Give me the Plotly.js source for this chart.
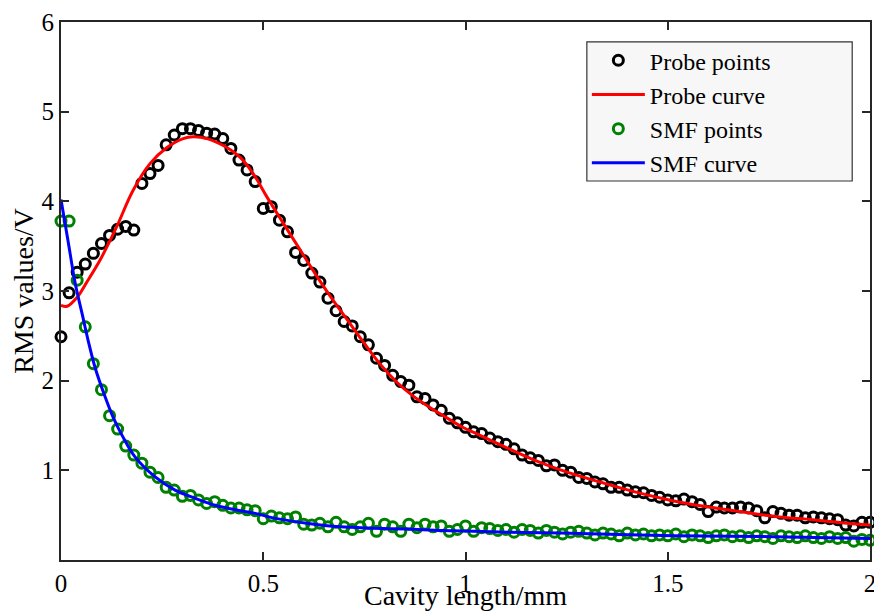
<!DOCTYPE html>
<html>
<head>
<meta charset="utf-8">
<script src="https://cdn.plot.ly/plotly-3.0.1.min.js"></script>
<style>html,body{margin:0;padding:0;background:#fff;}#chart{width:874px;height:611px;}</style>
</head>
<body>
<div id="chart"></div>
<script>
// Sample positions (cavity length, mm)
const pointsX = [0,0.02,0.04,0.06,0.08,0.10,0.12,0.14,0.16,0.18,0.20,0.22,0.24,0.26,0.28,0.30,0.32,0.34,0.36,0.38,
  0.40,0.42,0.44,0.46,0.48,0.50,0.52,0.54,0.56,0.58,0.60,0.62,0.64,0.66,0.68,0.70,0.72,0.74,0.76,0.78,
  0.80,0.82,0.84,0.86,0.88,0.90,0.92,0.94,0.96,0.98,1.00,1.02,1.04,1.06,1.08,1.10,1.12,1.14,1.16,1.18,
  1.20,1.22,1.24,1.26,1.28,1.30,1.32,1.34,1.36,1.38,1.40,1.42,1.44,1.46,1.48,1.50,1.52,1.54,1.56,1.58,
  1.60,1.62,1.64,1.66,1.68,1.70,1.72,1.74,1.76,1.78,1.80,1.82,1.84,1.86,1.88,1.90,1.92,1.94,1.96,1.98,2.00];

// Probe measured RMS values (V)
const probePoints = [2.49,2.98,3.21,3.30,3.42,3.53,3.62,3.69,3.72,3.68,4.20,4.31,4.40,4.63,4.74,4.81,4.81,4.79,4.76,4.75,
  4.70,4.59,4.46,4.35,4.22,3.92,3.94,3.79,3.66,3.43,3.34,3.20,3.10,2.92,2.78,2.66,2.61,2.49,2.40,2.25,
  2.17,2.06,1.99,1.95,1.82,1.80,1.73,1.67,1.58,1.53,1.48,1.43,1.41,1.36,1.32,1.29,1.24,1.17,1.14,1.11,
  1.05,1.06,1.00,0.98,0.92,0.91,0.87,0.85,0.81,0.81,0.78,0.76,0.75,0.72,0.70,0.67,0.66,0.68,0.65,0.62,
  0.54,0.59,0.58,0.58,0.59,0.58,0.55,0.47,0.54,0.52,0.50,0.50,0.47,0.48,0.47,0.46,0.45,0.39,0.38,0.42,0.42];

// SMF measured RMS values (V)
const smfPoints = [3.78,3.78,3.12,2.60,2.19,1.90,1.61,1.46,1.27,1.17,1.08,0.98,0.92,0.81,0.78,0.71,0.72,0.67,0.63,0.65,
  0.61,0.58,0.58,0.56,0.55,0.46,0.49,0.47,0.46,0.48,0.40,0.39,0.41,0.37,0.42,0.37,0.34,0.37,0.41,0.32,
  0.40,0.37,0.32,0.40,0.36,0.40,0.37,0.38,0.32,0.34,0.38,0.32,0.36,0.35,0.33,0.34,0.31,0.34,0.33,0.30,
  0.33,0.31,0.29,0.31,0.32,0.30,0.28,0.30,0.29,0.27,0.30,0.28,0.29,0.27,0.28,0.27,0.29,0.26,0.28,0.27,
  0.25,0.27,0.28,0.26,0.27,0.25,0.27,0.26,0.24,0.27,0.26,0.25,0.27,0.25,0.24,0.26,0.24,0.25,0.21,0.23,0.22];

// Fitted probe curve
const probeCurveX = [0,0.015,0.04,0.064,0.096,0.121,0.14,0.178,0.22,0.262,0.302,0.327,0.361,0.41,0.443,0.475,0.509,0.549,0.591,0.633,
  0.672,0.714,0.746,0.788,0.831,0.87,0.912,0.954,0.993,1.036,1.093,1.167,1.251,1.332,1.414,1.498,1.53,1.61,1.694,1.776,1.858,1.943,2.0];
const probeCurveY = [2.84,2.83,2.93,3.10,3.34,3.56,3.74,4.12,4.42,4.60,4.70,4.72,4.70,4.60,4.49,4.31,4.05,3.76,3.46,3.16,
  2.90,2.64,2.44,2.19,1.98,1.83,1.70,1.585,1.48,1.39,1.27,1.12,0.98,0.87,0.765,0.675,0.645,0.585,0.53,0.48,0.45,0.41,0.39];

// Fitted SMF curve
const smfCurveX = [0,0.017,0.035,0.052,0.067,0.084,0.109,0.129,0.151,0.183,0.232,0.282,0.331,0.381,0.43,0.48,0.524,0.608,0.69,0.771,
  0.855,0.937,1.019,1.103,1.234,1.515,1.763,2.0];
const smfCurveY = [4.02,3.57,3.09,2.75,2.45,2.15,1.82,1.59,1.39,1.15,0.93,0.78,0.69,0.61,0.56,0.52,0.47,0.41,0.37,0.355,
  0.345,0.33,0.32,0.31,0.30,0.27,0.26,0.24];

const xTickVals = [0,0.5,1,1.5,2];
const xTickText = ['0','0.5','1','1.5','2'];
const yTickVals = [1,2,3,4,5,6];
const yTickText = ['1','2','3','4','5','6'];

const FONT = '"Liberation Serif", "Times New Roman", serif';
const AX = '#262626';

const traces = [
  {x: pointsX, y: probePoints, name: 'Probe points', type: 'scatter', mode: 'markers', cliponaxis: false,
   marker: {symbol: 'circle-open', size: 10, color: '#000000', line: {width: 3, color: '#000000'}}},
  {x: probeCurveX, y: probeCurveY, name: 'Probe curve', type: 'scatter', mode: 'lines',
   line: {color: '#ff0000', width: 3, shape: 'spline', smoothing: 1}},
  {x: pointsX, y: smfPoints, name: 'SMF points', type: 'scatter', mode: 'markers', cliponaxis: false,
   marker: {symbol: 'circle-open', size: 10, color: '#008000', line: {width: 3, color: '#008000'}}},
  {x: smfCurveX, y: smfCurveY, name: 'SMF curve', type: 'scatter', mode: 'lines',
   line: {color: '#0000ff', width: 3, shape: 'spline', smoothing: 1}}
];

const layout = {
  width: 874, height: 611,
  margin: {l: 61, r: 4, t: 22, b: 51},
  paper_bgcolor: '#ffffff', plot_bgcolor: '#ffffff',
  font: {family: FONT, color: '#000000', size: 25},
  showlegend: true,
  legend: {x: 0.65, y: 0.97, xanchor: 'left', yanchor: 'top', bgcolor: 'rgba(0,0,0,0)',
    borderwidth: 0, font: {family: FONT, size: 24, color: '#000'},
    itemwidth: 53, tracegroupgap: 0},
  shapes: [{type: 'rect', xref: 'paper', yref: 'paper', x0: 0.650, x1: 0.978, y0: 0.7045, y1: 0.963,
    fillcolor: '#f7f7f7', line: {color: '#333333', width: 1.2}, layer: 'above'}],
  xaxis: {range: [0, 2], tickvals: xTickVals, ticktext: xTickText, ticks: 'inside', ticklen: 8, tickwidth: 2, tickcolor: AX,
    showline: true, linecolor: AX, linewidth: 2, mirror: 'ticks', showgrid: false, zeroline: false,
    ticklabeloverflow: 'allow',
    tickfont: {family: FONT, size: 25, color: '#000'},
    title: {text: 'Cavity length/mm', font: {family: FONT, size: 28, color: '#000'}, standoff: 6}},
  yaxis: {range: [0, 6], tickvals: yTickVals, ticktext: yTickText, ticks: 'inside', ticklen: 8, tickwidth: 2, tickcolor: AX,
    showline: true, linecolor: AX, linewidth: 2, mirror: 'ticks', showgrid: false, zeroline: false,
    tickfont: {family: FONT, size: 25, color: '#000'},
    title: {text: 'RMS values/V', font: {family: FONT, size: 28, color: '#000'}, standoff: 0}}
};

Plotly.newPlot('chart', traces, layout, {displayModeBar: false, staticPlot: true});
</script>
</body>
</html>
